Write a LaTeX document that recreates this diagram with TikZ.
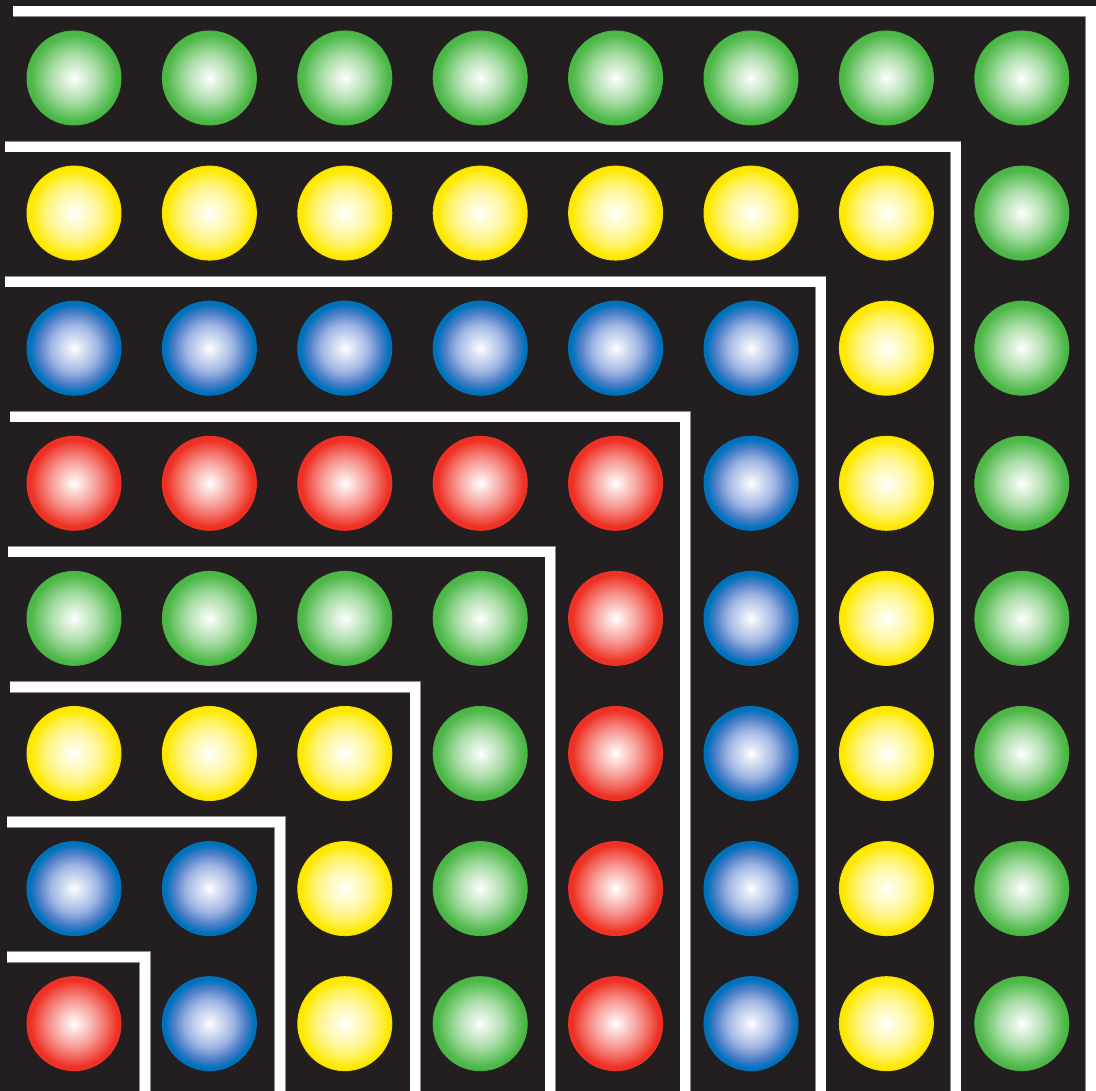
\documentclass[tikz,border=0pt]{standalone}
\definecolor{Board}{HTML}{231F20}
\definecolor{BallRed}{HTML}{EE3124}
\definecolor{BallBlue}{HTML}{0072BC}
\definecolor{BlueMid}{HTML}{9FB6E3}
\definecolor{BlueDeep}{HTML}{4F7FC8}
\definecolor{BallYellow}{HTML}{FFE900}
\definecolor{BallGreen}{HTML}{4DB848}
\definecolor{RimGray}{HTML}{8C8C8C}
\colorlet{rim0}{BallRed}
\colorlet{rim1}{BallBlue}
\colorlet{rim2}{BallYellow!95!black}
\colorlet{rim3}{BallGreen!95!black}
\pgfdeclareradialshading{ball0}{\pgfpoint{0bp}{0bp}}{color(0bp)=(white); color(3bp)=(BallRed!12); color(12.5bp)=(BallRed!50); color(19bp)=(BallRed!80); color(23bp)=(BallRed); color(50bp)=(BallRed)}
\pgfdeclareradialshading{ball1}{\pgfpoint{0bp}{0bp}}{color(0bp)=(white); color(3bp)=(BlueMid!25); color(12.5bp)=(BlueMid); color(19bp)=(BlueDeep); color(23.5bp)=(BallBlue); color(50bp)=(BallBlue)}
\pgfdeclareradialshading{ball2}{\pgfpoint{0bp}{0bp}}{color(0bp)=(white); color(3bp)=(BallYellow!10); color(12.5bp)=(BallYellow!40); color(19bp)=(BallYellow!72); color(23bp)=(BallYellow); color(50bp)=(BallYellow)}
\pgfdeclareradialshading{ball3}{\pgfpoint{0bp}{0bp}}{color(0bp)=(white); color(3bp)=(BallGreen!12); color(12.5bp)=(BallGreen!48); color(19bp)=(BallGreen!80); color(23bp)=(BallGreen); color(50bp)=(BallGreen)}

\begin{document}
\begin{tikzpicture}[x=1pt,y=1pt,
      ball/.style={circle,inner sep=0pt,minimum size=94pt,line width=1pt},
      fence/.style={draw=RimGray,line width=0.7pt,double=white,double distance=10pt}]
    \useasboundingbox[fill=Board] (0,0) rectangle (1096,1091);
    % gnomon borders
    \foreach \k/\xl in {0/7,1/7,2/9.5,3/8,4/9.5,5/4.5,6/5,7/13}
      \draw[fence] (\xl,{134+135.07*\k}) -| ({145+135.1*\k},-2);
    % balls, coloured by gnomon
    \foreach \i in {0,...,7}
      \foreach \j in {0,...,7} {
        \pgfmathtruncatemacro\k{mod(max(\i,\j),4)}
        \node[ball,shading=ball\k,draw=rim\k] (ball-\i-\j) at ({74+135.4*\i},{67.3+135.1*\j}) {};
      }
  \end{tikzpicture}
\end{document}
